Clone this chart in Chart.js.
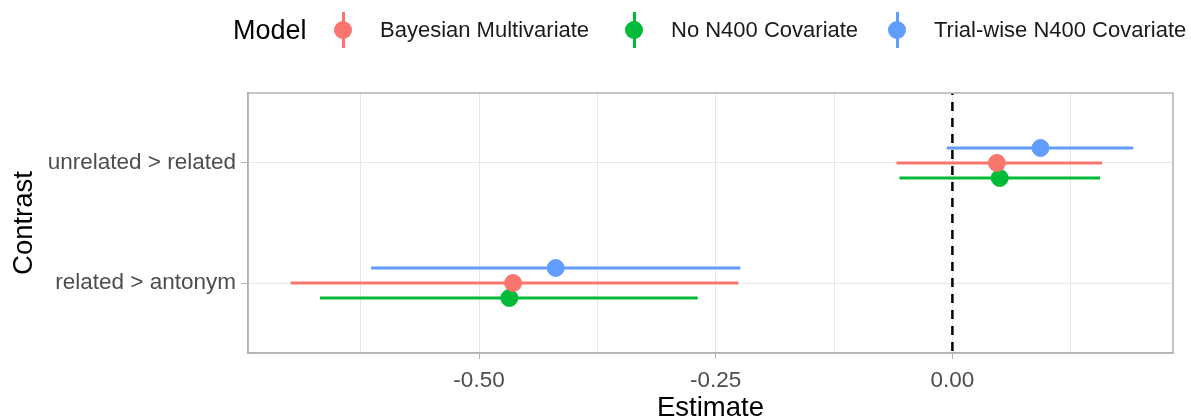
<!DOCTYPE html>
<html>
<head>
<meta charset="utf-8">
<script src="https://cdn.jsdelivr.net/npm/chart.js@4"></script>
<style>
  html, body { margin: 0; padding: 0; background: #fff; }
  #wrap { position: relative; width: 1191px; height: 419px; font-family: "Liberation Sans", Arial, sans-serif; }
  #legend { position: absolute; left: 0; top: 8px; width: 1191px; height: 44px; white-space: nowrap; }
  #legend .title { position: absolute; left: 233px; top: 0; line-height: 44px; font-size: 27px; color: #000; }
  #legend .item { position: absolute; top: 0; height: 44px; display: flex; align-items: center; font-size: 22px; color: #1a1a1a; }
  #legend .key { position: relative; width: 20px; height: 36px; margin-right: 27px; }
  #legend .key::before { content: ""; position: absolute; left: 8.5px; top: 0; width: 3px; height: 36px; background: var(--c); }
  #legend .key::after { content: ""; position: absolute; left: 1px; top: 9px; width: 18px; height: 18px; border-radius: 50%; background: var(--c); }
</style>
</head>
<body>
<div id="wrap">
  <div id="legend"></div>
  <canvas id="chart" width="1191" height="419"></canvas>
</div>
<script>
// categories (bottom to top) and models
const contrasts = ['related > antonym', 'unrelated > related'];
const models = ['Bayesian Multivariate', 'No N400 Covariate', 'Trial-wise N400 Covariate'];
const modelColors = ['#F8766D', '#00BA38', '#619CFF'];

// estimates, in contrast order
const bayesEst = [-0.464, 0.047];
const bayesLow = [-0.699, -0.059];
const bayesHigh = [-0.226, 0.158];

const noN400Est = [-0.468, 0.050];
const noN400Low = [-0.668, -0.056];
const noN400High = [-0.269, 0.156];

const trialEst = [-0.419, 0.093];
const trialLow = [-0.614, -0.006];
const trialHigh = [-0.224, 0.191];

const xTicks = [-0.625, -0.5, -0.375, -0.25, -0.125, 0, 0.125];
const xLabelled = [-0.5, -0.25, 0];

const estimates = [bayesEst, noN400Est, trialEst];
const lows = [bayesLow, noN400Low, trialLow];
const highs = [bayesHigh, noN400High, trialHigh];
const dodge = [0, -0.125, 0.125];

// html legend, keys placed where the reference has them
const legendLeft = [333, 624, 887];
const legendEl = document.getElementById('legend');
legendEl.innerHTML = '<span class="title">Model</span>' + models.map(function(m, i) {
    return '<span class="item" style="left:' + legendLeft[i] + 'px"><span class="key" style="--c:' +
        modelColors[i] + '"></span>' + m + '</span>';
}).join('');

const datasets = [];

// dashed zero line
datasets.push({
    type: 'line',
    data: [{x: 0, y: 0.3}, {x: 0, y: 2.7}],
    borderColor: '#000',
    borderWidth: 2.5,
    borderDash: [9, 7],
    pointRadius: 0,
    order: 3
});

// interval lines
models.forEach(function(m, i) {
    contrasts.forEach(function(c, j) {
        const y = j + 1 + dodge[i];
        datasets.push({
            type: 'line',
            data: [{x: lows[i][j], y: y}, {x: highs[i][j], y: y}],
            borderColor: modelColors[i],
            borderWidth: 3,
            pointRadius: 0,
            order: 2
        });
    });
});

// points
models.forEach(function(m, i) {
    datasets.push({
        type: 'scatter',
        label: m,
        data: contrasts.map(function(c, j) { return {x: estimates[i][j], y: j + 1 + dodge[i]}; }),
        backgroundColor: modelColors[i],
        borderColor: modelColors[i],
        pointRadius: 8.5,
        order: 1
    });
});

function fmt(v) {
    return v.toFixed(2);
}

new Chart(document.getElementById('chart'), {
    type: 'scatter',
    data: { datasets: datasets },
    options: {
        responsive: false,
        animation: false,
        layout: { padding: { top: 93, right: 18, left: 0, bottom: 0 } },
        plugins: { legend: { display: false }, tooltip: { enabled: false } },
        scales: {
            x: {
                type: 'linear',
                min: -0.744,
                max: 0.233,
                afterBuildTicks: function(scale) {
                    scale.ticks = xTicks.map(function(v) { return {value: v}; });
                },
                afterFit: function(scale) { scale.height = 66; },
                ticks: {
                    autoSkip: false,
                    maxRotation: 0,
                    padding: 8,
                    color: '#4d4d4d',
                    font: { family: 'Liberation Sans', size: 22.5 },
                    callback: function(v) {
                        return xLabelled.indexOf(v) >= 0 ? fmt(v) : '';
                    }
                },
                grid: {
                    color: '#e6e6e6',
                    lineWidth: 1,
                    tickLength: 6,
                    tickColor: function(ctx) {
                        return ctx.tick && xLabelled.indexOf(ctx.tick.value) >= 0 ? '#b3b3b3' : 'rgba(0,0,0,0)';
                    }
                },
                border: { color: '#b3b3b3', width: 1.5 },
                title: {
                    display: true,
                    text: 'Estimate',
                    color: '#000',
                    font: { family: 'Liberation Sans', size: 27.5 },
                    padding: { top: 0, bottom: -6 }
                }
            },
            y: {
                type: 'linear',
                min: 0.417,
                max: 2.583,
                afterBuildTicks: function(scale) {
                    scale.ticks = contrasts.map(function(c, j) { return {value: j + 1}; });
                },
                afterFit: function(scale) { scale.width = 248; },
                ticks: {
                    autoSkip: false,
                    padding: 5,
                    color: '#4d4d4d',
                    font: { family: 'Liberation Sans', size: 22.5 },
                    callback: function(v) { return contrasts[v - 1]; }
                },
                grid: {
                    color: '#e6e6e6',
                    lineWidth: 1,
                    tickLength: 7,
                    tickColor: '#b3b3b3'
                },
                border: { color: '#b3b3b3', width: 1.5 },
                title: {
                    display: true,
                    text: 'Contrast',
                    color: '#000',
                    font: { family: 'Liberation Sans', size: 27.5 },
                    padding: { top: 8, bottom: 0 }
                }
            }
        }
    },
    plugins: [{
        id: 'panelBorder',
        afterDraw: function(chart) {
            const a = chart.chartArea;
            const ctx = chart.ctx;
            ctx.save();
            ctx.strokeStyle = '#b3b3b3';
            ctx.lineWidth = 1.5;
            ctx.strokeRect(a.left, a.top, a.right - a.left, a.bottom - a.top);
            ctx.restore();
        }
    }]
});
</script>
</body>
</html>
